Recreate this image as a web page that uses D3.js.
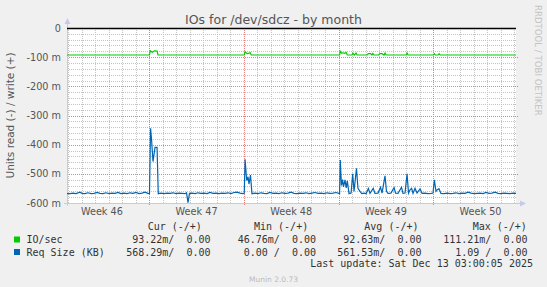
<!DOCTYPE html>
<html><head><meta charset="utf-8">
<script src="https://cdn.jsdelivr.net/npm/d3@7"></script>
<style>
html,body{margin:0;padding:0;background:#f0f0f0;}
svg{display:block;}
text{font-family:"DejaVu Sans",sans-serif;}
.mono{font-family:"DejaVu Sans Mono",monospace;font-size:10px;fill:#333;white-space:pre;}
</style></head>
<body>
<script>
// ---------- data ----------
const title = "IOs for /dev/sdcz - by month";
const yAxisTitle = "Units read (-) / write (+)";
const startTime = new Date(2025, 10, 9, 22, 0, 0);   // Nov 9 2025 22:00
const endTime = new Date(2025, 11, 13, 3, 0, 0);     // Dec 13 2025 03:00
const yTicks = [0, -0.1, -0.2, -0.3, -0.4, -0.5, -0.6];
const yTickLabels = ["0", "-100 m", "-200 m", "-300 m", "-400 m", "-500 m", "-600 m"];
const weekLabels = ["Week 46", "Week 47", "Week 48", "Week 49", "Week 50"];
const seriesNames = ["IO/sec", "Req Size (KB)"];
const seriesColors = ["#00cc00", "#0066b3"];
// [days since start, read value in milli-units]
const ioRead = [[0,92.6],[6.10,92.6],[6.16,78],[6.30,83],[6.47,78],[6.66,79],[6.73,92.6],[13.11,92.6],[13.17,82],[13.33,88],[13.41,87],[13.55,85],[13.63,92.6],[20.16,92.6],[20.21,80],[20.30,86],[20.40,85],[20.52,87],[20.65,84],[20.73,92.6],[21.08,92.6],[21.15,86],[21.25,92.6],[21.38,86],[21.46,92.6],[22.20,92.6],[22.29,88],[22.45,88],[22.55,92.6],[22.62,87],[22.70,92.6],[23.05,92.6],[23.15,88],[23.30,88],[23.45,92.6],[23.52,86],[23.60,92.6],[25.10,92.6],[25.15,86],[25.22,92.6],[27.10,92.6],[27.17,88],[27.25,92.6],[27.45,92.6],[27.52,88],[27.60,92.6],[33.21,92.6]];
const reqRead = [[0,568],[0.22,568],[0.44,566],[0.67,568],[0.96,563],[1.11,567],[1.33,568],[1.55,565],[1.78,568],[2.00,567],[2.22,564],[2.44,567],[2.66,568],[2.88,565],[3.11,568],[3.33,566],[3.55,567],[3.77,564],[3.99,568],[4.22,566],[4.44,568],[4.66,565],[4.88,567],[5.10,564],[5.33,568],[5.55,566],[5.77,563],[5.99,567],[6.10,568],[6.18,344],[6.25,380],[6.36,458],[6.51,409],[6.66,409],[6.75,568],[6.95,566],[7.17,568],[7.40,566],[7.62,567],[7.84,565],[8.06,568],[8.28,566],[8.51,567],[8.73,568],[8.84,565],[8.95,599],[9.06,567],[9.25,566],[9.47,568],[9.69,565],[9.91,567],[10.13,566],[10.36,568],[10.58,564],[10.80,567],[11.02,566],[11.24,568],[11.46,566],[11.69,567],[11.91,565],[12.13,568],[12.35,564],[12.57,563],[12.80,566],[13.02,568],[13.11,567],[13.17,450],[13.29,523],[13.39,510],[13.46,535],[13.57,504],[13.68,568],[13.91,566],[14.13,568],[14.35,565],[14.57,567],[14.79,568],[15.01,564],[15.24,567],[15.46,566],[15.68,568],[15.90,565],[16.12,567],[16.35,566],[16.57,563],[16.79,567],[17.01,568],[17.23,566],[17.46,567],[17.68,565],[17.90,568],[18.12,566],[18.34,564],[18.57,567],[18.79,566],[19.01,568],[19.23,565],[19.45,567],[19.67,566],[19.90,564],[20.16,568],[20.21,453],[20.30,540],[20.38,520],[20.45,545],[20.56,521],[20.65,548],[20.73,524],[20.86,568],[21.01,566],[21.13,500],[21.23,560],[21.41,481],[21.52,550],[21.67,560],[21.80,568],[21.97,566],[22.12,568],[22.29,550],[22.41,567],[22.65,550],[22.78,567],[23.00,566],[23.19,546],[23.30,566],[23.52,507],[23.63,560],[23.74,567],[23.96,566],[24.19,547],[24.30,566],[24.48,567],[24.74,546],[24.85,567],[25.00,566],[25.15,500],[25.26,566],[25.37,555],[25.49,550],[25.59,567],[25.74,550],[25.89,566],[26.11,552],[26.26,567],[26.48,566],[26.70,568],[26.92,567],[27.07,566],[27.17,521],[27.29,560],[27.37,555],[27.51,551],[27.66,567],[27.88,568],[28.11,566],[28.33,568],[28.55,567],[28.77,565],[28.99,568],[29.22,566],[29.44,567],[29.66,563],[29.88,566],[30.10,568],[30.33,567],[30.55,566],[30.77,568],[30.99,564],[31.21,567],[31.43,566],[31.66,563],[31.88,567],[32.10,568],[32.32,566],[32.54,567],[32.77,568],[32.99,566],[33.21,567]];
const legendHeaders = ["Cur (-/+)", "Min (-/+)", "Avg (-/+)", "Max (-/+)"];
const legendRows = [
  ["93.22m/  0.00", "46.76m/  0.00", "92.63m/  0.00", "111.21m/  0.00"],
  ["568.29m/  0.00", "0.00 /  0.00", "561.53m/  0.00", "1.09 /  0.00"]
];
const lastUpdate = "Last update: Sat Dec 13 03:00:05 2025";
const footer = "Munin 2.0.73";
const sideText = "RRDTOOL / TOBI OETIKER";

// ---------- layout ----------
const W = 547, H = 287;
const L = 67, R = 516, T = 28, B = 203;

const svg = d3.select("body").append("svg").attr("width", W).attr("height", H);
svg.append("rect").attr("width", W).attr("height", H).attr("fill", "#f0f0f0");

const x = d3.scaleTime().domain([startTime, endTime]).range([L, R]);
const y = d3.scaleLinear().domain([-0.6, 0]).range([B, T]);
const toDate = d => new Date(+startTime + d * 864e5);

// plot canvas
svg.append("rect").attr("x", L).attr("y", T).attr("width", R - L).attr("height", B - T).attr("fill", "#ffffff");

const grid = svg.append("g");
const minorColor = "#c4c4c4", majorColor = "#e58080";
function dottedV(xv, y0, y1, color) {
  const g = grid.append("g").attr("fill", color);
  g.selectAll("rect").data(d3.range(Math.round(y0), Math.round(y1), 2)).enter().append("rect")
    .attr("x", Math.round(xv)).attr("y", d => d).attr("width", 1).attr("height", 1);
}
function dottedH(yv, x0, x1, color) {
  const g = grid.append("g").attr("fill", color);
  g.selectAll("rect").data(d3.range(Math.round(x0), Math.round(x1), 2)).enter().append("rect")
    .attr("x", d => d).attr("y", Math.round(yv)).attr("width", 1).attr("height", 1);
}
// minor horizontal (every 20m)
const minorY = d3.range(0, 31).map(i => -i * 0.02).filter(v => Math.abs(Math.round(v * 10) - v * 10) > 1e-6);
minorY.forEach(v => dottedH(y(v), L, R, minorColor));
// minor vertical (daily)
const days = d3.timeDay.range(startTime, endTime).filter(d => d.getDay() !== 0);
days.forEach(d => dottedV(x(d), T, B, minorColor));
// major horizontal
yTicks.slice(1).forEach(v => dottedH(y(v), L, R + 3, majorColor));
// major vertical (weeks, Sunday)
const weeks = d3.timeSunday.range(startTime, endTime);
weeks.forEach(d => dottedV(x(d), T, B + 3, majorColor));

// axes lines with arrows
const axisColor = "#c8c8ec";
svg.append("line").attr("x1", L + 0.5).attr("x2", L + 0.5).attr("y1", B + 3).attr("y2", T - 6).attr("stroke", axisColor);
svg.append("path").attr("d", `M${L - 2.5},${T - 4} L${L + 0.5},${T - 10} L${L + 3.5},${T - 4} Z`).attr("fill", axisColor);
svg.append("line").attr("x1", L - 3).attr("x2", R + 4).attr("y1", B + 0.5).attr("y2", B + 0.5).attr("stroke", axisColor);
svg.append("path").attr("d", `M${R + 4},${B - 2.5} L${R + 10},${B + 0.5} L${R + 4},${B + 3.5} Z`).attr("fill", axisColor);

// y tick labels
svg.append("g").selectAll("text").data(yTicks).enter().append("text")
  .attr("x", 61).attr("y", d => y(d) + 3.5).attr("text-anchor", "end")
  .attr("font-size", "9.7px").attr("fill", "#555").text((d, i) => yTickLabels[i]);

// x week labels (centered mid-week)
svg.append("g").selectAll("text").data(weekLabels).enter().append("text")
  .attr("x", (d, i) => x(new Date(+d3.timeSunday.floor(startTime) + (i * 7 + 3.5) * 864e5)))
  .attr("y", 215).attr("text-anchor", "middle").attr("font-size", "9.7px").attr("fill", "#555").text(d => d);

// data lines (read drawn negative)
const line = d3.line().x(d => x(toDate(d[0]))).y(d => y(-d[1] / 1000));
svg.append("path").datum(ioRead).attr("d", line).attr("fill", "none").attr("stroke", seriesColors[0]).attr("stroke-width", 1.2);
svg.append("path").datum(reqRead).attr("d", line).attr("fill", "none").attr("stroke", seriesColors[1]).attr("stroke-width", 1.2);
// zero (write) line
svg.append("line").attr("x1", L).attr("x2", R).attr("y1", y(0) + 0.5).attr("y2", y(0) + 0.5).attr("stroke", "#000").attr("stroke-width", 1.3);

// title
svg.append("text").attr("x", 273.5).attr("y", 24).attr("text-anchor", "middle")
  .attr("font-size", "12.5px").attr("fill", "#555").text(title);
// y axis title
svg.append("text").attr("transform", `translate(14,${(T + B) / 2}) rotate(-90)`).attr("text-anchor", "middle")
  .attr("font-size", "10.5px").attr("fill", "#555").text(yAxisTitle);
// side text
svg.append("text").attr("transform", `translate(535,5) rotate(90)`).attr("text-anchor", "start")
  .attr("font-size", "8.6px").attr("fill", "#c4c4c4").text(sideText);

// legend
const hdrX = [147.7, 254, 364.3, 472.7];
svg.append("g").selectAll("text").data(legendHeaders).enter().append("text")
  .attr("class", "mono").attr("x", (d, i) => hdrX[i]).attr("y", 230).text(d => d);
const colEnd = [210.5, 316, 421.5, 527.5];
const rowY = [243, 255.5];
seriesNames.forEach((name, r) => {
  svg.append("rect").attr("x", 14).attr("y", rowY[r] - 6.5).attr("width", 6).attr("height", 6).attr("fill", seriesColors[r]);
  svg.append("text").attr("class", "mono").attr("x", 26.5).attr("y", rowY[r]).text(name);
  svg.append("g").selectAll("text").data(legendRows[r]).enter().append("text")
    .attr("class", "mono").attr("x", (d, i) => colEnd[i]).attr("y", rowY[r]).attr("text-anchor", "end").text(d => d);
});
svg.append("text").attr("class", "mono").attr("x", 533).attr("y", 267).attr("text-anchor", "end").text(lastUpdate);
svg.append("text").attr("x", 273.5).attr("y", 282).attr("text-anchor", "middle")
  .attr("font-size", "7.5px").attr("fill", "#bbb").text(footer);
</script>
</body></html>
